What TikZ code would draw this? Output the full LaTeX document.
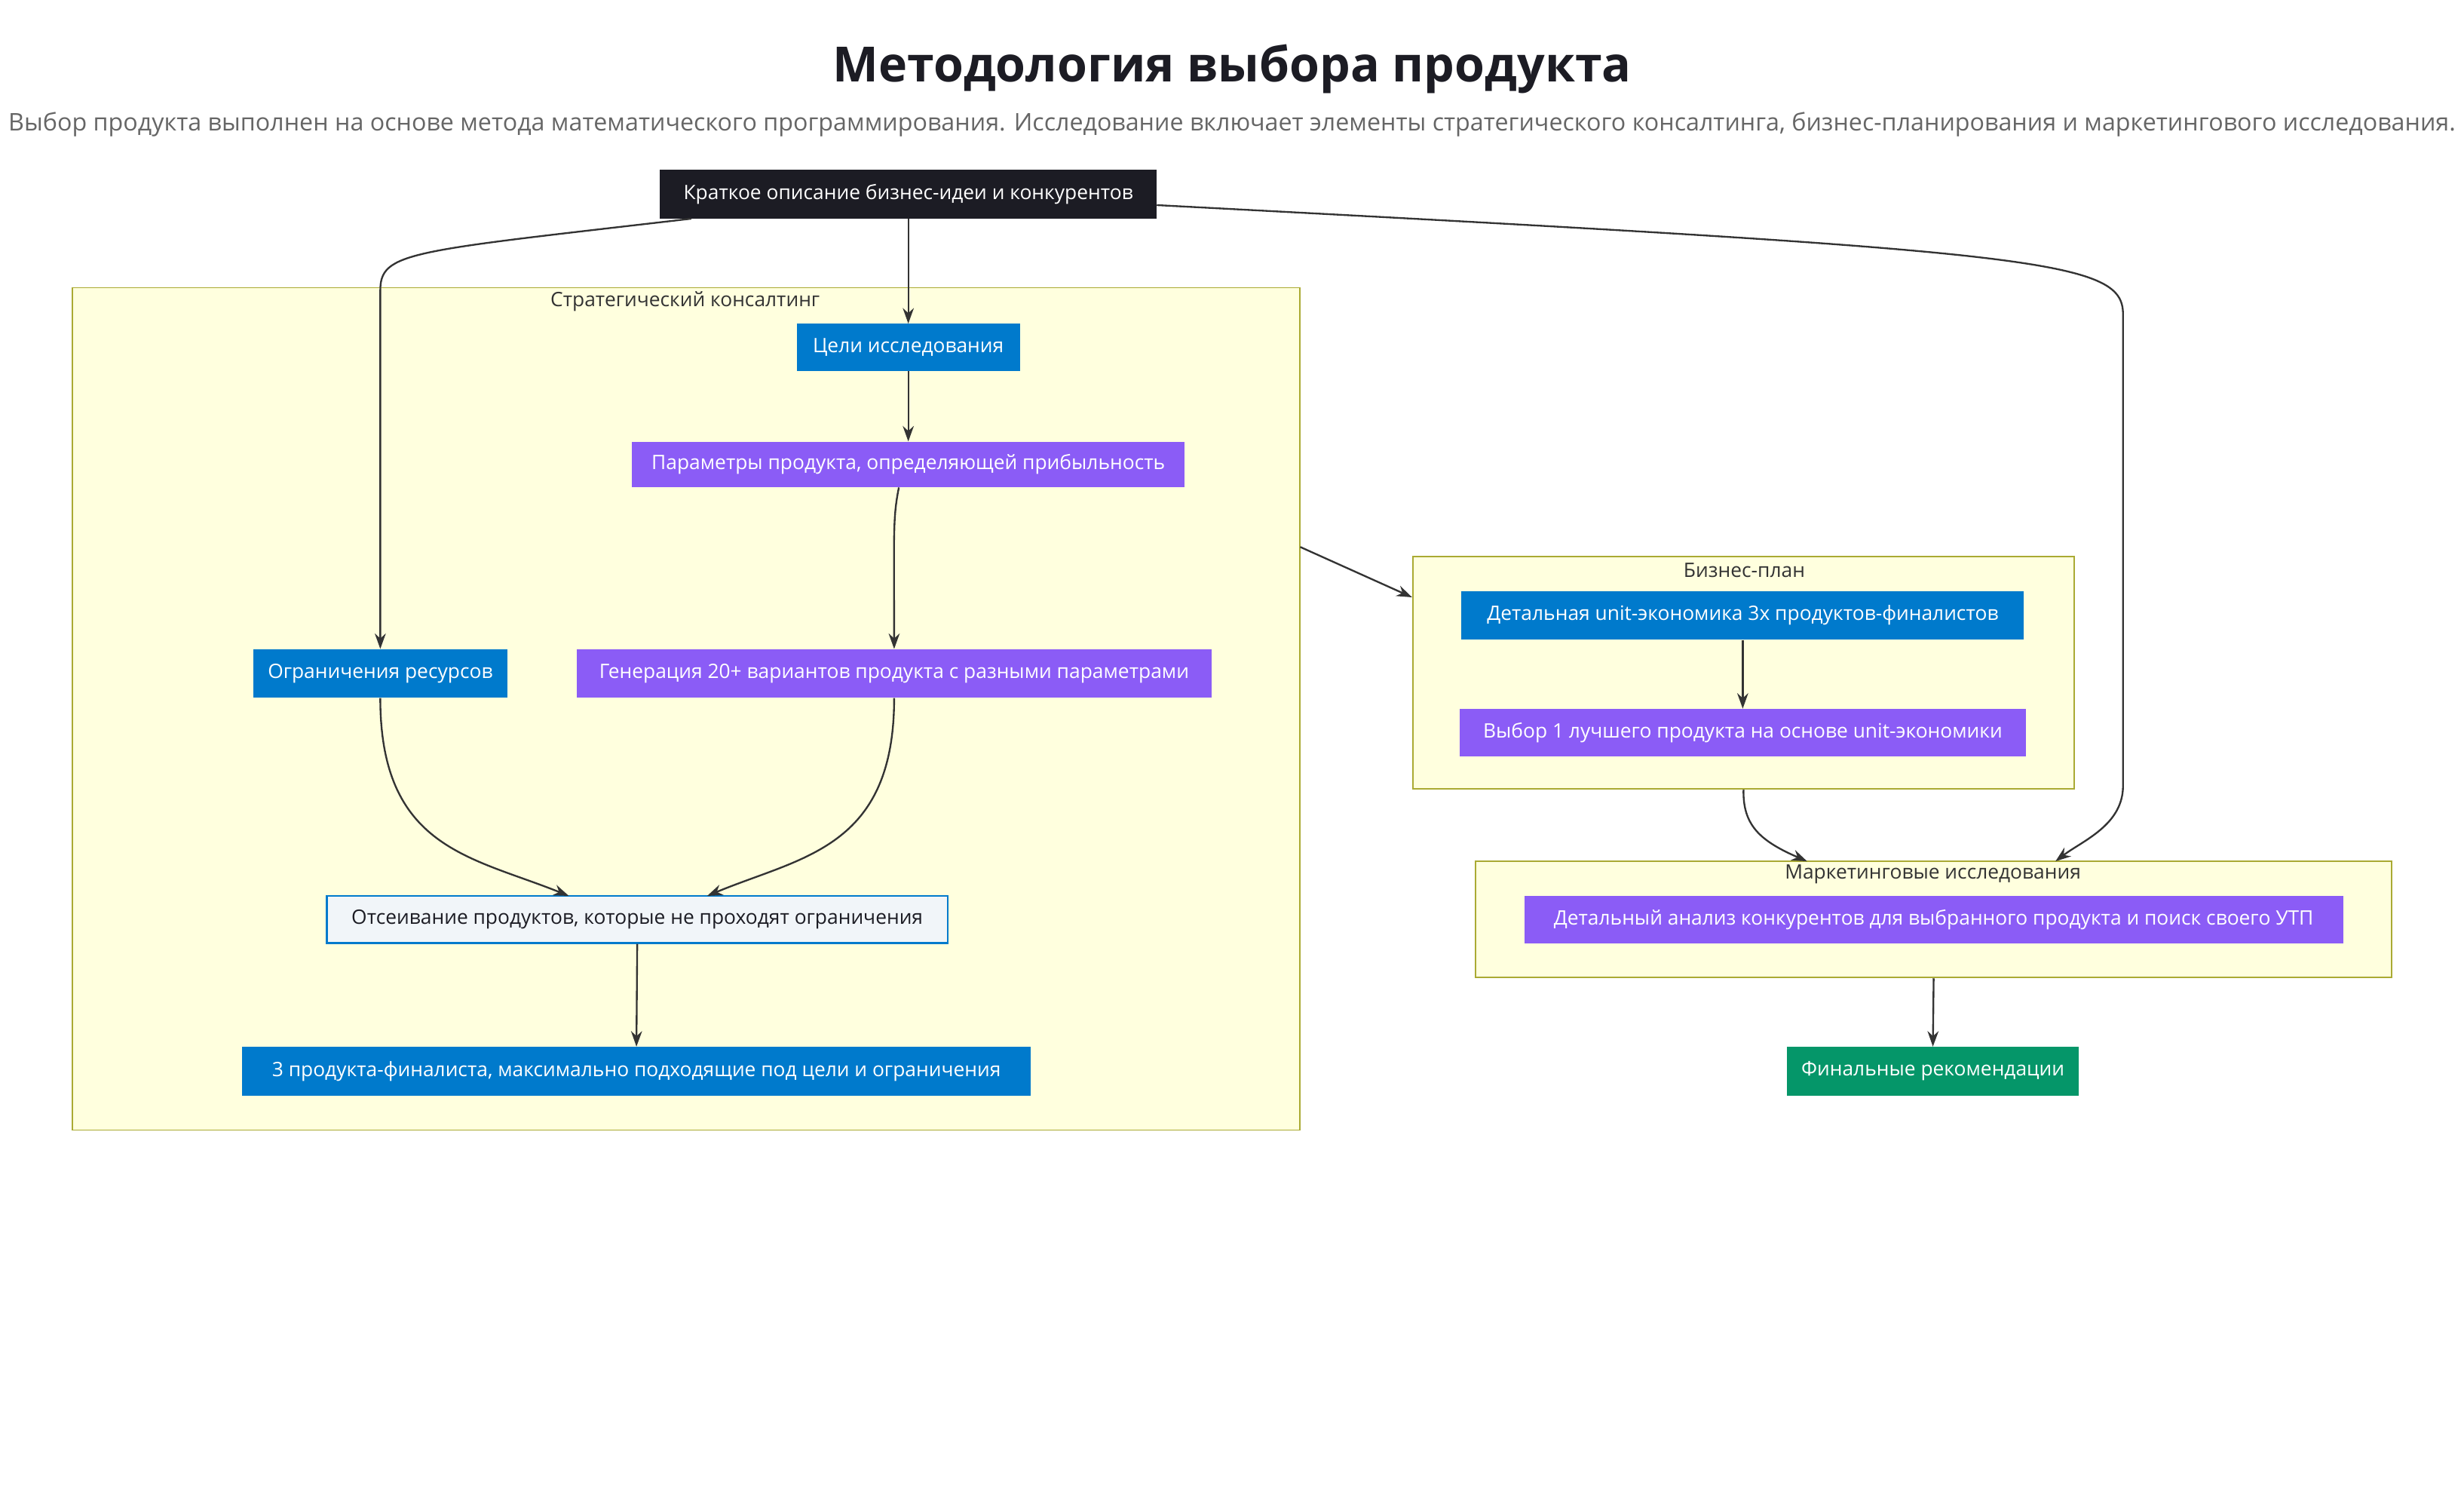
\documentclass[tikz,border=0pt]{standalone}
\usepackage{fontspec}
\setmainfont{Open Sans}
\usetikzlibrary{arrows.meta}
\definecolor{nblue}{HTML}{007ACC}
\definecolor{npurp}{HTML}{8B5CF6}
\definecolor{ngreen}{HTML}{059669}
\definecolor{ndark}{HTML}{1C1C24}
\definecolor{cfill}{HTML}{FFFFDE}
\definecolor{cline}{HTML}{AAAA33}
\definecolor{ecol}{HTML}{333333}
\definecolor{lfill}{HTML}{F1F5F9}
\begin{document}
\begin{tikzpicture}[x=0.05cm,y=-0.05cm,
  box/.style={rectangle,inner sep=0pt,font=\fontsize{18}{20}\selectfont,text=white},
  bluebox/.style={box,fill=nblue},
  purpbox/.style={box,fill=npurp},
  cluster/.style={rectangle,fill=cfill,draw=cline,line width=1.2pt,inner sep=0pt},
  clabel/.style={font=\fontsize{18}{20}\selectfont,text=ecol},
  edge/.style={draw=ecol,line width=1.6pt,-{Stealth[length=14pt,width=10pt]}}]
\useasboundingbox (0,0) rectangle (1568,956);
\fill[white] (0,0) rectangle (1568,956);
\node[font=\fontsize{44}{48}\selectfont\bfseries,text=ndark] (title) at (784,44) {Методология выбора продукта};
\node[font=\fontsize{22}{24}\selectfont,text=black!60] (sub) at (784,79) {Выбор продукта выполнен на основе метода математического программирования. Исследование включает элементы стратегического консалтинга, бизнес-планирования и маркетингового исследования.};
% clusters
\node[cluster,minimum width=781*0.05cm,minimum height=536*0.05cm] (sc) at (436.5,451) {};
\node[clabel] (scl) at (436,192) {Стратегический консалтинг};
\node[cluster,minimum width=421*0.05cm,minimum height=148*0.05cm] (bp) at (1109.5,428) {};
\node[clabel] (bpl) at (1110,363) {Бизнес-план};
\node[cluster,minimum width=583*0.05cm,minimum height=74*0.05cm] (mk) at (1230.5,585) {};
\node[clabel] (mkl) at (1230,556) {Маркетинговые исследования};
% nodes
\node[box,fill=ndark,minimum width=316*0.05cm,minimum height=31*0.05cm] (a) at (578,123.5) {Краткое описание бизнес-идеи и конкурентов};
\node[bluebox,minimum width=142*0.05cm,minimum height=30*0.05cm] (goal) at (578,221) {Цели исследования};
\node[purpbox,minimum width=352*0.05cm,minimum height=29*0.05cm] (par) at (578,295.5) {Параметры продукта, определяющей прибыльность};
\node[bluebox,minimum width=162*0.05cm,minimum height=31*0.05cm] (res) at (242,428.5) {Ограничения ресурсов};
\node[purpbox,minimum width=404*0.05cm,minimum height=31*0.05cm] (gen) at (569,428.5) {Генерация 20+ вариантов продукта с разными параметрами};
\node[box,fill=lfill,draw=nblue,line width=1.4pt,text=ndark,minimum width=395*0.05cm,minimum height=30*0.05cm] (flt) at (405.5,585) {Отсеивание продуктов, которые не проходят ограничения};
\node[bluebox,minimum width=502*0.05cm,minimum height=31*0.05cm] (fin3) at (405,681.5) {3 продукта-финалиста, максимально подходящие под цели и ограничения};
\node[bluebox,minimum width=358*0.05cm,minimum height=31*0.05cm] (unit) at (1109,391.5) {Детальная unit-экономика 3х продуктов-финалистов};
\node[purpbox,minimum width=360*0.05cm,minimum height=30*0.05cm] (best) at (1109,466) {Выбор 1 лучшего продукта на основе unit-экономики};
\node[purpbox,minimum width=521*0.05cm,minimum height=30*0.05cm] (comp) at (1230.5,585) {Детальный анализ конкурентов для выбранного продукта и поиск своего УТП};
\node[box,fill=ngreen,minimum width=186*0.05cm,minimum height=31*0.05cm] (rec) at (1230,681.5) {Финальные рекомендации};
% edges
\draw[edge] (a.south west)++(20,0) .. controls (260,160) and (242,160) .. (242,185) -- (res.north);
\draw[edge] (a.south) -- (goal.north);
\draw[edge] (a.east)++(0,7) .. controls (1300,160) and (1351,165) .. (1351,200) -- (1351,500) .. controls (1351,525) and (1325,535) .. (1308,548);
\draw[edge] (goal.south) -- (par.north);
\draw[edge] (par.south)++(-6,0) .. controls (568,330) and (569,340) .. (gen.north);
\draw[edge] (res.south) .. controls (242,540) and (300,545) .. (362,570);
\draw[edge] (gen.south) .. controls (569,540) and (510,545) .. (450,570);
\draw[edge] (flt.south) -- (fin3.north);
\draw[edge] (sc.east)++(0,-103) -- (bp.west|-0,380);
\draw[edge] (unit.south) -- (best.north);
\draw[edge] (bp.south) .. controls (1109,525) and (1120,535) .. (1150,548);
\draw[edge] (mk.south) -- (rec.north);
\end{tikzpicture}
\end{document}
